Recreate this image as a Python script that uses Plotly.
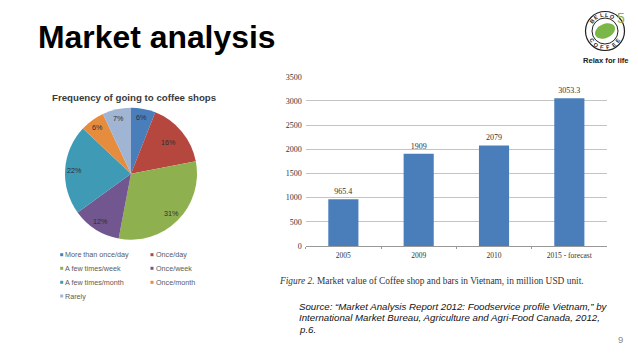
import math
import plotly.graph_objects as go

W, H = 638, 359
PAGE_MARGIN = 8  # the page's own body margin; the figure is drawn inside it
pie_labels = ["More than once/day", "Once/day", "A few times/week", "Once/week", "A few times/month", "Once/month", "Rarely"]
pie_values = [6, 16, 31, 12, 22, 6, 7]
pie_colors = ["#4a7ebb", "#b5473f", "#8fb04e", "#71568f", "#3f9ab5", "#e58c3f", "#a0b4d4"]
bar_categories = ["2005", "2009", "2010", "2015 - forecast"]
bar_values = [965.4, 1909, 2079, 3053.3]
bar_text = ["965.4", "1909", "2079", "3053.3"]

FW, FH = W - PAGE_MARGIN, H - PAGE_MARGIN


def px(x):
    return (x - PAGE_MARGIN) / FW


def py(y):
    return 1 - (y - PAGE_MARGIN) / FH


fig = go.Figure()
PCX, PCY, PR = 131, 173.7, 66
fig.add_trace(go.Pie(
    labels=pie_labels, values=pie_values, sort=False, direction="clockwise", rotation=0,
    marker=dict(colors=pie_colors, line=dict(width=0)),
    textinfo="none",
    domain=dict(x=[px(PCX - PR), px(PCX + PR)], y=[py(PCY + PR), py(PCY - PR)]),
    showlegend=False,
))
fig.add_trace(go.Bar(
    x=bar_categories, y=bar_values, text=bar_text, textposition="outside", cliponaxis=False,
    textfont=dict(family="Liberation Serif", size=8, color="#333333"),
    marker=dict(color="#4a7ebb", line=dict(width=0)), width=0.4, showlegend=False,
))

annots = []
shapes = []


def txt(x, y, s, size, color="#000000", family="Liberation Sans", xanchor="left", angle=0, yanchor="middle"):
    annots.append(dict(x=px(x), y=py(y), xref="paper", yref="paper", text=s, showarrow=False,
                       font=dict(family=family, size=size, color=color), xanchor=xanchor,
                       yanchor=yanchor, textangle=angle, align="left", borderpad=0, borderwidth=0))


txt(38, 37, "<b>Market analysis</b>", 31.9)
txt(134, 98, "<b>Frequency of going to coffee shops</b>", 9.7, color="#3a3a3a", xanchor="center")

# pie percentage labels, placed from the slice angles
total = sum(pie_values)
cum = 0
for v in pie_values:
    mid = (cum + v / 2) / total * 2 * math.pi
    cum += v
    rr = PR * (0.73 if v == 16 else 0.86)
    txt(PCX + rr * math.sin(mid), PCY - rr * math.cos(mid), f"{v}%", 7.2, color="#2f2f2f", xanchor="center")

# pie legend, two columns
col_x = [61.7, 152]
row_y = [254.7, 268.3, 282.3, 296]
for i, lab in enumerate(pie_labels):
    x0 = col_x[i % 2]
    y0 = row_y[i // 2]
    shapes.append(dict(type="rect", xref="paper", yref="paper", x0=px(x0 - 1.5), x1=px(x0 + 1.5),
                       y0=py(y0 + 1.5), y1=py(y0 - 1.5), fillcolor=pie_colors[i], line=dict(width=0)))
    txt(x0 + 3.6, y0, lab, 7.2, color="#5a5a5a")

txt(279, 281, "<i>Figure 2.</i> Market value of Coffee shop and bars in Vietnam, in million USD unit.", 9.4,
    color="#333333", family="Liberation Serif")
txt(299, 306, "<i>Source: “Market Analysis Report 2012: Foodservice profile Vietnam,” by</i>", 9.7, color="#111111")
txt(299, 317.5, "<i>International Market Bureau, Agriculture and Agri-Food Canada, 2012,</i>", 9.7, color="#111111")
txt(299, 329, "<i>p.6.</i>", 9.7, color="#111111")
txt(620, 339, "9", 9.5, color="#8a8a8a", xanchor="center")

# logo
cx, cy = 605, 31


def circ(r, width, color):
    shapes.append(dict(type="circle", xref="paper", yref="paper", x0=px(cx - r), x1=px(cx + r),
                       y0=py(cy + r), y1=py(cy - r), line=dict(color=color, width=width), fillcolor="rgba(0,0,0,0)"))


circ(19.5, 1.2, "#222222")
circ(13, 1.0, "#222222")
pts = []
for k in range(40):
    t = 2 * math.pi * k / 40
    ex, ey = 10.5 * math.cos(t), 7 * math.sin(t)
    a = math.radians(-25)
    X = cx + ex * math.cos(a) - ey * math.sin(a)
    Y = cy + ex * math.sin(a) + ey * math.cos(a)
    pts.append(f"{px(X):.5f},{py(Y):.5f}")
shapes.append(dict(type="path", xref="paper", yref="paper", path="M" + " L".join(pts) + " Z",
                   fillcolor="#7ab648", line=dict(width=0)))


def arc(word, start, step, r):
    for j, ch in enumerate(word):
        ang = start + j * step
        X = cx + r * math.sin(math.radians(ang))
        Y = cy - r * math.cos(math.radians(ang))
        rot = ang
        if 90 < ang % 360 < 270:
            rot = ang - 180
        txt(X, Y, f"<b>{ch}</b>", 5.5, color="#222222", xanchor="center", angle=rot)


arc("BELLO", -52, 20, 16.2)
arc("COFFEE", 235, -22, 16.2)
txt(621, 18, "5", 14, color="#8fb04e", xanchor="center")
txt(606, 60, "<b>Relax for life</b>", 7.6, color="#222222", xanchor="center")

fig.update_layout(
    width=FW, height=FH, autosize=False, margin=dict(l=0, r=0, t=0, b=0),
    paper_bgcolor="white", plot_bgcolor="white", annotations=annots, shapes=shapes, showlegend=False,
    xaxis=dict(domain=[px(305.7), px(607)], type="category", tickson="boundaries", ticks="outside", ticklen=2,
               tickcolor="#999999", linecolor="#999999", linewidth=1, showgrid=False, automargin=False,
               ticklabelstandoff=2,
               tickfont=dict(family="Liberation Serif", size=7.5, color="#333333")),
    yaxis=dict(domain=[py(246), py(76.7)], range=[0, 3500], dtick=500, tickformat="d", gridcolor="#c4c4c4", gridwidth=1.2,
               zeroline=False, ticks="", automargin=False, ticklabelstandoff=3,
               tickfont=dict(family="Liberation Serif", size=8, color="#333333")),
)
fig.write_html("out.html")
